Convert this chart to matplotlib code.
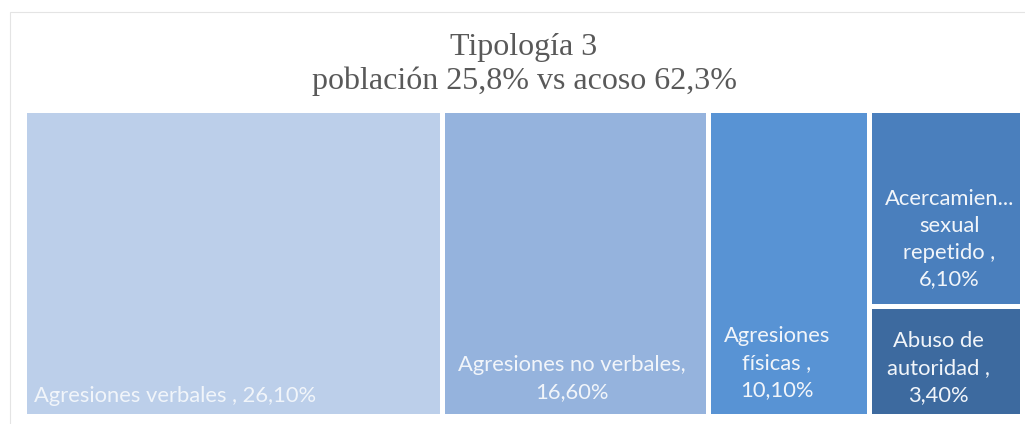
import matplotlib.pyplot as plt
from matplotlib.patches import Rectangle

# data
categories = ["Agresiones verbales", "Agresiones no verbales", "Agresiones físicas",
              "Acercamiento sexual repetido", "Abuso de autoridad"]
values = [26.1, 16.6, 10.1, 6.1, 3.4]
labels = ["Agresiones verbales , 26,10%",
          "Agresiones no verbales,\n16,60%",
          "Agresiones\nfísicas ,\n10,10%",
          "Acercamien...\nsexual\nrepetido ,\n6,10%",
          "Abuso de\nautoridad ,\n3,40%"]
colors = ["#bccfea", "#95b3dd", "#5893d4", "#4a7fbd", "#3d6a9f"]

title = "Tipología 3\npoblación 25,8% vs acoso 62,3%"

# label placement: (ha, anchor, dx px, dy px)
label_pos = [("left", "left", 11, 9.5),
             ("center", "center", -3, 13.5),
             ("left", "left", 16, 15.5),
             ("center", "center", 4, 16.5),
             ("center", "center", -7, 10.5)]

W, H = 1025, 424
fig = plt.figure(figsize=(W / 100, H / 100), dpi=100)

# faint outer frame
fig.patches.append(Rectangle((10 / W, -0.1), 1.2, 1 - 12 / H + 0.1,
                             transform=fig.transFigure, fill=False,
                             edgecolor="#e4e4e4", linewidth=0.8))

ax = fig.add_axes([23.5 / W, (H - 415.5) / H, 998 / W, 306 / H])
total = sum(values)
ax.set_xlim(0, total)
ax.set_ylim(0, 1)
ax.axis("off")

# slice layout: first three as columns, last two stacked
rects = []
x = 0
for v in values[:3]:
    rects.append((x, 0, v, 1))
    x += v
w = values[3] + values[4]
rects.append((x, values[4] / w, w, values[3] / w))
rects.append((x, 0, w, values[4] / w))

for (rx, ry, rw, rh), c, lab, (ha, anc, dx, dy) in zip(rects, colors, labels, label_pos):
    ax.add_patch(Rectangle((rx, ry), rw, rh, facecolor=c, edgecolor="white",
                           linewidth=3.6))
    ax_x = rx if anc == "left" else rx + rw / 2
    ax.annotate(lab, xy=(ax_x, ry), xycoords="data", xytext=(dx, dy),
                textcoords="offset pixels", ha=ha, va="bottom",
                multialignment="center", linespacing=1.43,
                fontsize=15.8, family="Lato", color="#f1f5fa")

fig.text(524 / W, 1 - 33 / H, title, ha="center", va="top",
         fontsize=23, family="Liberation Serif", color="#595959",
         linespacing=1.22)

fig.savefig("out.png", dpi=100)
